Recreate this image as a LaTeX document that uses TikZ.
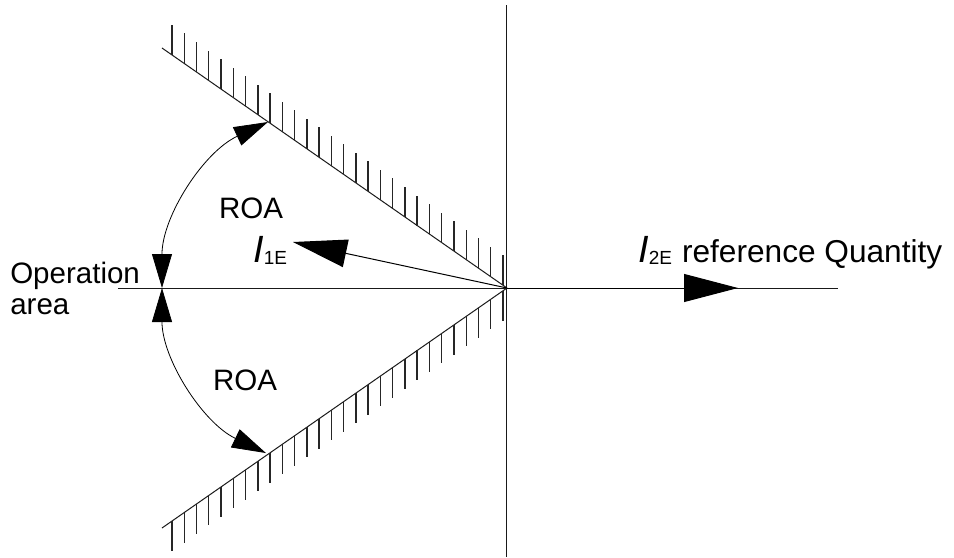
\documentclass[tikz,border=0pt]{standalone}
\usepackage{fontspec}
\setmainfont{Liberation Sans}
\usetikzlibrary{arrows.meta,calc}
\newcommand{\curr}[1]{{\fontsize{27}{27}\selectfont\itshape I}\raisebox{-0.5mm}{\fontsize{13.5}{13.5}\selectfont #1}}
\tikzset{
  axisln/.style ={line width=0.25mm, black!90},
  wall/.style   ={line width=0.25mm, black!90},
  hatch/.style  ={line width=0.35mm, black!85},
  bigar/.style  ={-{Triangle[length=13.5mm, width=7mm]}, line width=0.25mm},
  roaar/.style  ={{Triangle[length=8.5mm, width=5mm]}-{Triangle[length=8.5mm, width=5mm]}, line width=0.2mm},
  lbl/.style    ={font=\fontsize{21}{22}\selectfont, inner sep=0pt},
}
\begin{document}
\begin{tikzpicture}[x=0.25mm, y=0.25mm]
\useasboundingbox (-507,-269) rectangle (447,288);

\coordinate (o) at (0,0);
\coordinate (top) at (0,283);
\coordinate (bot) at (0,-269);
\coordinate (west) at (-389,0);
\coordinate (east) at (331,0);
\coordinate (tl) at (-345,240);
\coordinate (bl) at (-345,-240);
\coordinate (ac) at (-162,0);
\coordinate (ref) at (231,0);
\coordinate (ione) at (-214,46);

% axes
\draw[axisln] (top) -- (bot);
\draw[axisln] (west) -- (east);

% boundaries with hatching
\draw[wall] (tl) -- (o);
\draw[wall] (bl) -- (o);
\foreach \k [evaluate=\k as \t using (10+\k*12.26)/345] in {0,...,27} {
  \draw[hatch] ($(tl)!\t!(o)$) -- ++(0,30);
  \draw[hatch] ($(bl)!\t!(o)$) -- ++(0,-30);
}

% quantities
\draw[bigar] (o) -- (ref);
\draw[bigar] (o) -- (ione);

% ROA arcs
\draw[roaar] ($(ac)+(114.9:45.75mm)$) arc[start angle=114.9, end angle=180, radius=45.75mm];
\draw[roaar] ($(ac)+(180:45.75mm)$) arc[start angle=180, end angle=244.4, radius=45.75mm];

\node[lbl, anchor=north west, align=left] (opar) at (-497,26) {Operation\\area};
\node[lbl] (roaup) at (-256,80) {ROA};
\node[lbl] (roalow) at (-262,-92) {ROA};
\node[lbl, anchor=base west] (lone) at (-254,26) {\curr{1E}};
\node[lbl, anchor=base west] (ltwo) at (131,26) {\curr{2E}\hspace{2.5mm}{\fontsize{22.5}{22}\selectfont reference Quantity}};

\end{tikzpicture}
\end{document}
